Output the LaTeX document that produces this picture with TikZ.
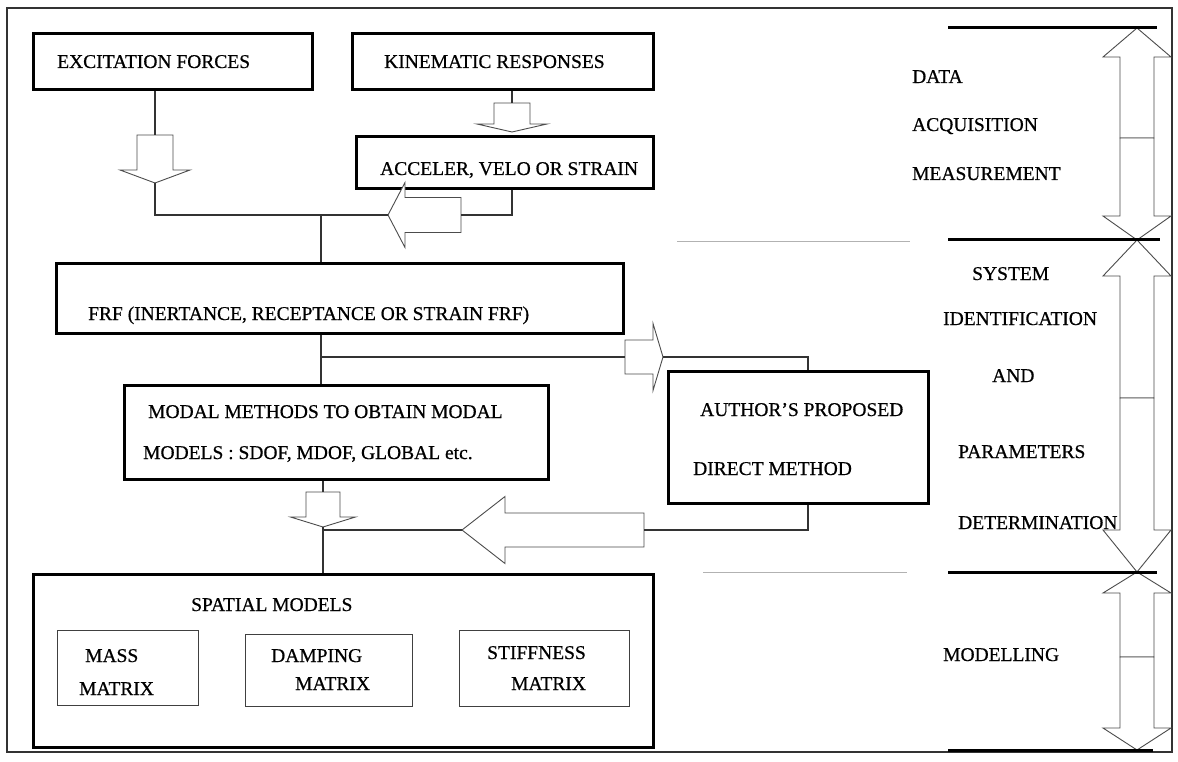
\documentclass[tikz,border=0pt]{standalone}
\usepackage{fontspec}
\setmainfont{Liberation Serif}[BoldFont=Liberation Serif, BoldFeatures={FakeBold=0.6}]
\begin{document}
\begin{tikzpicture}[x=1pt,y=-1pt,
  bigbox/.style={draw=black, line width=2.6pt, inner sep=0pt, anchor=north west},
  subbox/.style={draw=black!75, line width=1pt, inner sep=0pt, anchor=north west},
  conn/.style={draw=black!80, line width=1.1pt},
  blk/.style={draw=black!70, line width=0.9pt, fill=white, line join=miter},
  txt/.style={anchor=base west, inner sep=0pt, font=\fontsize{19.5}{23}\selectfont\bfseries},
  divider/.style={draw=black!30, line width=1pt},
  rulebar/.style={draw=black, line width=3pt},
  pics/blkarrow/.style n args={4}{code={
    \draw[blk] (0,0) -- (-#1,#2) -- (-#1,#3) -- (-#1-#4,#3) -- (-#1-#4,-#3) -- (-#1,-#3) -- (-#1,-#2) -- cycle;}}
]
\useasboundingbox[fill=white] (0,0) rectangle (1178,762);
\draw[black!80, line width=1.5pt] (7,8) rectangle (1172,752);

% boxes
\node[bigbox, minimum width=279pt, minimum height=56pt] (exc) at (32,32) {};
\node[bigbox, minimum width=301pt, minimum height=56pt] (kin) at (351,32) {};
\node[bigbox, minimum width=297pt, minimum height=52pt] (acc) at (355,135) {};
\node[bigbox, minimum width=567pt, minimum height=70pt] (frf) at (55,262) {};
\node[bigbox, minimum width=424pt, minimum height=94pt] (modal) at (123,384) {};
\node[bigbox, minimum width=260pt, minimum height=132pt] (auth) at (667,370) {};
\node[bigbox, minimum width=620pt, minimum height=173pt] (spat) at (32,573) {};
\node[subbox, minimum width=141pt, minimum height=75pt] (mass) at (57,630) {};
\node[subbox, minimum width=167pt, minimum height=72pt] (damp) at (245,634) {};
\node[subbox, minimum width=170pt, minimum height=76pt] (stiff) at (459,630) {};

% texts
\node[txt] (t1) at (57,68) {EXCITATION FORCES};
\node[txt] (t2) at (384,68) {KINEMATIC RESPONSES};
\node[txt] (t3) at (380,175) {ACCELER, VELO OR STRAIN};
\node[txt] (t4) at (88,320) {FRF (INERTANCE, RECEPTANCE OR STRAIN FRF)};
\node[txt] (t5) at (148,418) {MODAL METHODS TO OBTAIN MODAL};
\node[txt] (t6) at (143,459) {MODELS : SDOF, MDOF, GLOBAL etc.};
\node[txt] (t7) at (700,416) {AUTHOR'S PROPOSED};
\node[txt] (t8) at (693,475) {DIRECT METHOD};
\node[txt] (t9) at (191,611) {SPATIAL MODELS};
\node[txt] (t10) at (85,662) {MASS};
\node[txt] (t11) at (79,695) {MATRIX};
\node[txt] (t12) at (271,662) {DAMPING};
\node[txt] (t13) at (295,690) {MATRIX};
\node[txt] (t14) at (487,659) {STIFFNESS};
\node[txt] (t15) at (511,690) {MATRIX};
\node[txt] (r1) at (912,83) {DATA};
\node[txt] (r2) at (912,131) {ACQUISITION};
\node[txt] (r3) at (912,180) {MEASUREMENT};
\node[txt] (r4) at (972,280) {SYSTEM};
\node[txt] (r5) at (943,325) {IDENTIFICATION};
\node[txt] (r6) at (992,382) {AND};
\node[txt] (r7) at (958,458) {PARAMETERS};
\node[txt] (r8) at (958,529) {DETERMINATION};
\node[txt] (r9) at (943,661) {MODELLING};

% block arrows (tip coordinates)
\coordinate (a1tip) at (155,183); \coordinate (a1top) at (155,135);
\coordinate (a2tip) at (512,132); \coordinate (a2top) at (512,103);
\coordinate (a3tip) at (388,215); \coordinate (a3tail) at (461,215);
\coordinate (a4tip) at (663,357); \coordinate (a4tail) at (625,357);
\coordinate (a5tip) at (323,527); \coordinate (a5top) at (323,492);
\coordinate (a6tip) at (462,530); \coordinate (a6tail) at (644,530);
\pic[rotate=-90] at (a1tip) {blkarrow={13}{35}{18}{35}};
\pic[rotate=-90] at (a2tip) {blkarrow={8}{35}{18}{21}};
\pic[rotate=180] at (a3tip) {blkarrow={17}{32.5}{17.5}{56}};
\pic at (a4tip) {blkarrow={10}{33.5}{17}{28}};
\pic[rotate=-90] at (a5tip) {blkarrow={10}{32.5}{17}{25}};
\pic[rotate=180] at (a6tip) {blkarrow={43}{33.5}{17}{139}};

% connectors
\coordinate (j1) at (321,215);
\coordinate (j2) at (321,357);
\coordinate (j3) at (808,357);
\coordinate (j4) at (808,530);
\draw[conn] (a1top |- exc.south) -- (a1top);
\draw[conn] (a1tip) -- (a1tip |- a3tip) -- (a3tip);
\draw[conn] (a2top |- kin.south) -- (a2top);
\draw[conn] (acc.south -| a2top) -- (a2top |- a3tail) -- (a3tail);
\draw[conn] (j1) -- (j1 |- frf.north);
\draw[conn] (j1 |- frf.south) -- (j1 |- modal.north);
\draw[conn] (j2) -- (a4tail);
\draw[conn] (a4tip) -- (j3) -- (j3 |- auth.north);
\draw[conn] (a5top |- modal.south) -- (a5top);
\draw[conn] (a5tip) -- (a5tip |- spat.north);
\draw[conn] (a5tip |- a6tip) -- (a6tip);
\draw[conn] (a6tail) -- (j4) -- (j4 |- auth.south);

% right side double arrows
\pic[rotate=90] at (1137,28) {blkarrow={29}{34}{17}{81}};
\pic[rotate=-90] at (1137,240) {blkarrow={24}{34}{17}{78}};
\pic[rotate=90] at (1137,240) {blkarrow={36}{34}{17}{122}};
\pic[rotate=-90] at (1137,572) {blkarrow={42}{34}{17}{132}};
\pic[rotate=90] at (1137,572) {blkarrow={21}{34}{17}{64}};
\pic[rotate=-90] at (1137,750) {blkarrow={22}{34}{17}{71}};

\coordinate (h1a) at (948,28);  \coordinate (h1b) at (1157,28);
\coordinate (h2a) at (948,240); \coordinate (h2b) at (1160,240);
\coordinate (h3a) at (948,572); \coordinate (h3b) at (1157,572);
\coordinate (h4a) at (948,750); \coordinate (h4b) at (1153,750);
\draw[rulebar] (h1a) -- (h1b);
\draw[rulebar] (h2a) -- (h2b);
\draw[rulebar] (h3a) -- (h3b);
\draw[rulebar] (h4a) -- (h4b);

% dividers
\coordinate (d1a) at (677,242); \coordinate (d1b) at (910,242);
\coordinate (d2a) at (703,572); \coordinate (d2b) at (907,572);
\draw[divider] (d1a) -- (d1b);
\draw[divider] (d2a) -- (d2b);
\end{tikzpicture}
\end{document}
